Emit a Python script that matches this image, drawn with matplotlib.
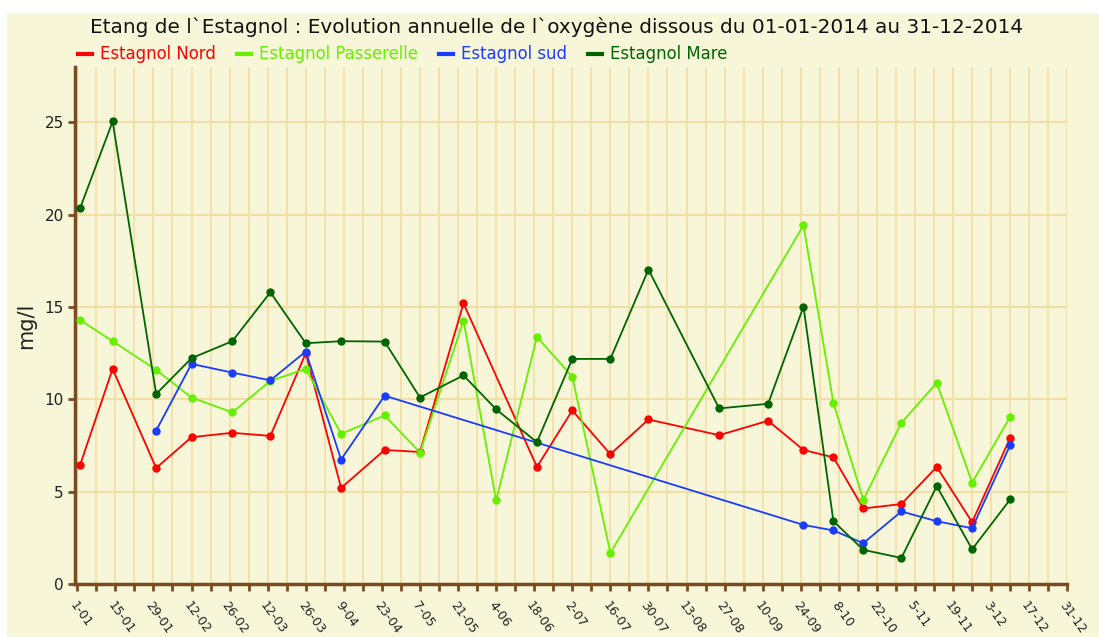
import matplotlib
matplotlib.use("Agg")
import matplotlib.pyplot as plt
import matplotlib.transforms as mtransforms
from matplotlib.lines import Line2D
import pandas as pd

title = "Etang de l`Estagnol : Evolution annuelle de l`oxygène dissous du 01-01-2014 au 31-12-2014"
ylabel = "mg/l"

nord_dates = ["2014-01-02", "2014-01-14", "2014-01-30", "2014-02-12", "2014-02-27", "2014-03-13",
              "2014-03-26", "2014-04-08", "2014-04-24", "2014-05-07", "2014-05-23", "2014-06-19",
              "2014-07-02", "2014-07-16", "2014-07-30", "2014-08-25", "2014-09-12", "2014-09-25",
              "2014-10-06", "2014-10-17", "2014-10-31", "2014-11-13", "2014-11-26", "2014-12-10"]
nord_values = [6.43, 11.65, 6.28, 7.95, 8.19, 8.02, 12.5, 5.2, 7.26, 7.15, 15.2, 6.34,
               9.4, 7.03, 8.91, 8.06, 8.84, 7.26, 6.86, 4.09, 4.33, 6.34, 3.35, 7.91]

passerelle_dates = ["2014-01-02", "2014-01-14", "2014-01-30", "2014-02-12", "2014-02-27", "2014-03-13",
                    "2014-03-26", "2014-04-08", "2014-04-24", "2014-05-07", "2014-05-23", "2014-06-04",
                    "2014-06-19", "2014-07-02", "2014-07-16", "2014-09-25", "2014-10-06", "2014-10-17",
                    "2014-10-31", "2014-11-13", "2014-11-26", "2014-12-10"]
passerelle_values = [14.3, 13.15, 11.6, 10.1, 9.3, 11.0, 11.65, 8.13, 9.13, 7.12, 14.27, 4.53,
                     13.38, 11.23, 1.68, 19.43, 9.8, 4.56, 8.73, 10.9, 5.49, 9.06]

sud_dates = ["2014-01-30", "2014-02-12", "2014-02-27", "2014-03-13", "2014-03-26", "2014-04-08",
             "2014-04-24", "2014-09-25", "2014-10-06", "2014-10-17", "2014-10-31", "2014-11-13",
             "2014-11-26", "2014-12-10"]
sud_values = [8.31, 11.92, 11.45, 11.03, 12.59, 6.74, 10.2, 3.2, 2.9, 2.21, 3.93, 3.4, 3.02, 7.52]

mare_dates = ["2014-01-02", "2014-01-14", "2014-01-30", "2014-02-12", "2014-02-27", "2014-03-13",
              "2014-03-26", "2014-04-08", "2014-04-24", "2014-05-07", "2014-05-23", "2014-06-04",
              "2014-06-19", "2014-07-02", "2014-07-16", "2014-07-30", "2014-08-25", "2014-09-12",
              "2014-09-25", "2014-10-06", "2014-10-17", "2014-10-31", "2014-11-13", "2014-11-26",
              "2014-12-10"]
mare_values = [20.34, 25.05, 10.29, 12.23, 13.15, 15.8, 13.04, 13.15, 13.13, 10.1, 11.3, 9.46,
               7.68, 12.19, 12.19, 17.03, 9.51, 9.76, 15.02, 3.4, 1.85, 1.41, 5.3, 1.88, 4.58]

series_names = ["Estagnol Nord", "Estagnol Passerelle", "Estagnol sud", "Estagnol Mare"]
series_colors = ["#ff0000", "#66f000", "#1a3cff", "#006400"]

y_ticks = [0, 5, 10, 15, 20, 25]

BG = "#f8f6d8"
GRID = "#f2dfa6"
SPINE = "#7a4a20"
W, H = 1099, 637

fig = plt.figure(figsize=(W / 100, H / 100), dpi=100, facecolor="white")
fig.patches.append(plt.Rectangle((7 / W, 0), 1, 1 - 13 / H, transform=fig.transFigure,
                                 facecolor=BG, edgecolor="none", zorder=-10))
ax = fig.add_axes([75 / W, 1 - 584 / H, (1067.3 - 75) / W, (584 - 67) / H])
ax.set_facecolor(BG)

start = pd.Timestamp("2014-01-01")
end = pd.Timestamp("2014-12-31")

all_data = [(nord_dates, nord_values), (passerelle_dates, passerelle_values),
            (sud_dates, sud_values), (mare_dates, mare_values)]
for i, ((d, v), name, c) in enumerate(zip(all_data, series_names, series_colors)):
    ax.plot(pd.to_datetime(d), v, color=c, lw=1.3, marker="o", markersize=6,
            markeredgewidth=0, label=name, zorder=3 + i)

ax.set_xlim(start - pd.Timedelta(hours=20), end)
ax.set_ylim(0, 28)

major = pd.date_range(start, end, freq="14D")
minor = pd.date_range(start, end, freq="7D")
ax.set_xticks(minor, minor=True)
ax.set_xticks(major)
ax.set_xticklabels([f"{t.day}-{t.month:02d}" for t in major], rotation=-54,
                   ha="left", va="top", rotation_mode="anchor", fontsize=9, color="#222222")
offset = mtransforms.ScaledTranslation(6 / 100, 0, fig.dpi_scale_trans)
for lab in ax.get_xticklabels():
    lab.set_transform(lab.get_transform() + offset)
ax.set_yticks(y_ticks)
ax.set_yticklabels([str(t) for t in y_ticks], fontsize=11, color="#222222")

ax.grid(True, which="minor", axis="x", color=GRID, lw=1.2, zorder=0)
ax.grid(True, which="major", axis="x", color=GRID, lw=1.2, zorder=0)
ax.grid(True, which="major", axis="y", color=GRID, lw=1.5, zorder=0)
ax.set_axisbelow(True)

for s in ["top", "right"]:
    ax.spines[s].set_visible(False)
for s in ["left", "bottom"]:
    ax.spines[s].set_color(SPINE)
    ax.spines[s].set_linewidth(2.5)
ax.tick_params(axis="x", which="both", direction="out", length=5, width=2, color=SPINE, pad=6)
ax.tick_params(axis="y", direction="out", length=5, width=2, color=SPINE, pad=3)

ax.set_ylabel(ylabel, fontsize=15, color="#222222", labelpad=6)

fig.text(556 / W, 1 - 27 / H, title, ha="center", va="center", fontsize=14.4, color="#111111")

# legend drawn manually in figure pixel coordinates
fig.canvas.draw()
renderer = fig.canvas.get_renderer()
x = 78.0
y_leg = H - 54
for name, c in zip(series_names, series_colors):
    fig.add_artist(Line2D([x / W, (x + 14) / W], [y_leg / H, y_leg / H], color=c, lw=3,
                          transform=fig.transFigure))
    t = fig.text((x + 22) / W, y_leg / H, name, color=c, fontsize=11.9, ha="left", va="center")
    bb = t.get_window_extent(renderer)
    x = bb.x1 + 21

fig.savefig("out.png", dpi=100, facecolor="white")
